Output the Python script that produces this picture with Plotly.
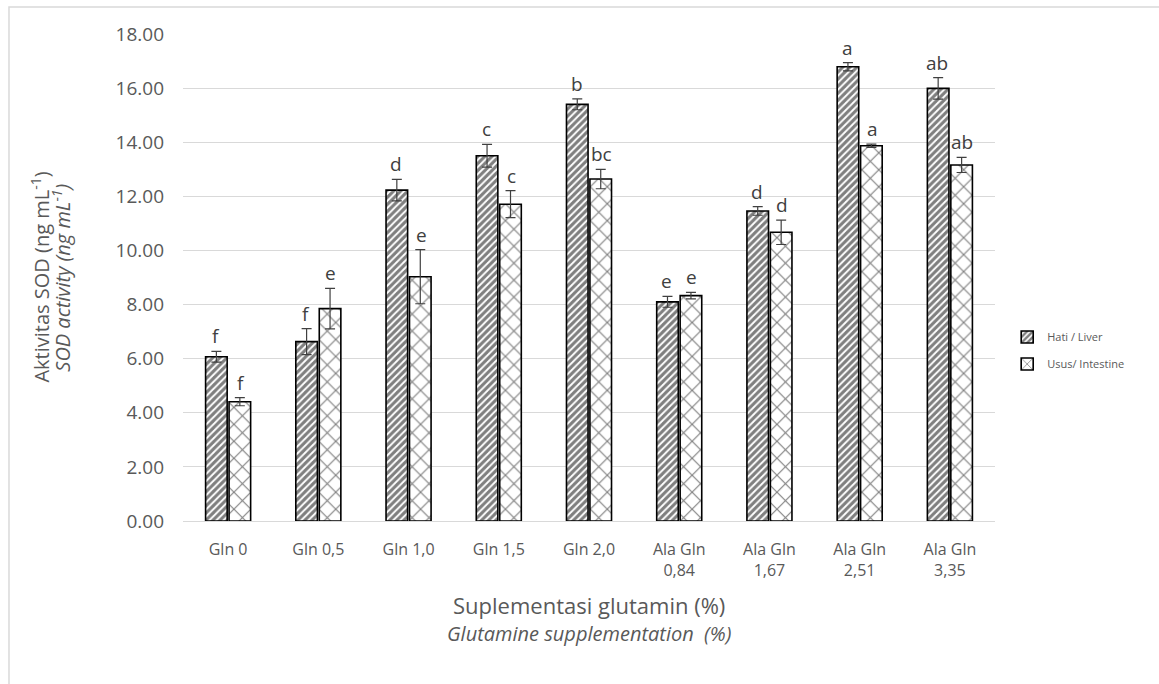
import plotly.graph_objects as go

categories = ["Gln 0", "Gln 0,5", "Gln 1,0", "Gln 1,5", "Gln 2,0",
              "Ala Gln<br>0,84", "Ala Gln<br>1,67", "Ala Gln<br>2,51", "Ala Gln<br>3,35"]

liver = [6.07, 6.63, 12.23, 13.50, 15.40, 8.10, 11.46, 16.79, 15.99]
liver_err = [0.20, 0.48, 0.40, 0.42, 0.20, 0.20, 0.16, 0.15, 0.40]
liver_letters = ["f", "f", "d", "c", "b", "e", "d", "a", "ab"]

intestine = [4.41, 7.85, 9.03, 11.71, 12.64, 8.33, 10.67, 13.87, 13.16]
intestine_err = [0.15, 0.75, 1.00, 0.50, 0.36, 0.12, 0.45, 0.06, 0.28]
intestine_letters = ["f", "e", "e", "c", "bc", "e", "d", "a", "ab"]

FONT = "'Open Sans', sans-serif"
GREY_TXT = "#595959"
GRID = "#d9d9d9"

fig = go.Figure()

fig.add_trace(go.Bar(
    name="Hati / Liver", x=categories, y=liver, legendgroup="liver",
    marker=dict(color="white", line=dict(color="black", width=1.6),
                pattern=dict(shape="/", fgcolor="black", bgcolor="white",
                             size=5, solidity=0.62)),
    error_y=dict(type="data", array=liver_err, color="#404040",
                 thickness=1.2, width=5),
))
fig.add_trace(go.Bar(
    name="Usus/ Intestine", x=categories, y=intestine, legendgroup="intestine",
    marker=dict(color="white", line=dict(color="black", width=1.6),
                pattern=dict(shape="x", fgcolor="black", bgcolor="white",
                             size=12, solidity=0.18)),
    error_y=dict(type="data", array=intestine_err, color="#404040",
                 thickness=1.2, width=5),
))

# significance letters above each error bar
for cat, v, e, t in zip(categories, liver, liver_err, liver_letters):
    fig.add_annotation(x=cat, y=v + e, text=t, showarrow=False, xshift=-12.5,
                       yanchor="bottom", yshift=0,
                       font=dict(family=FONT, size=19, color="#404040"))
for cat, v, e, t in zip(categories, intestine, intestine_err, intestine_letters):
    fig.add_annotation(x=cat, y=v + e, text=t, showarrow=False, xshift=12.5,
                       yanchor="bottom", yshift=0,
                       font=dict(family=FONT, size=19, color="#404040"))

# y-axis title (two lines, second italic)
fig.add_annotation(xref="paper", yref="paper", x=-0.176, y=0.5, textangle=-90,
                   xanchor="center", yanchor="middle",
                   text="Aktivitas SOD (ng mL<sup>-1</sup>)", showarrow=False,
                   font=dict(family=FONT, size=20, color=GREY_TXT))
fig.add_annotation(xref="paper", yref="paper", x=-0.150, y=0.5, textangle=-90,
                   xanchor="center", yanchor="middle",
                   text="<i>SOD activity (ng mL<sup>-1</sup>)</i>", showarrow=False,
                   font=dict(family=FONT, size=20, color=GREY_TXT))

# x-axis title (two lines, second italic)
fig.add_annotation(xref="paper", yref="paper", x=0.5, y=-0.172, yanchor="middle",
                   text="Suplementasi glutamin (%)", showarrow=False,
                   font=dict(family=FONT, size=22, color=GREY_TXT))
fig.add_annotation(xref="paper", yref="paper", x=0.5, y=-0.232, yanchor="middle",
                   text="<i>Glutamine supplementation  (%)</i>", showarrow=False,
                   font=dict(family=FONT, size=20, color=GREY_TXT))

# outer chart border
fig.add_shape(type="rect", xref="paper", yref="paper",
              x0=-0.2143, x1=1.5, y0=-1.0, y1=1.0554,
              line=dict(color=GRID, width=1.5), fillcolor="rgba(0,0,0,0)",
              layer="below")

fig.update_layout(
    width=1159, height=684,
    margin=dict(l=183, r=164, t=34, b=163),
    paper_bgcolor="white", plot_bgcolor="white",
    barmode="group", bargap=0.48, bargroupgap=0.08,
    font=dict(family=FONT, color=GREY_TXT),
    showlegend=True,
    legend=dict(x=1.015, y=0.35, xanchor="left", yanchor="middle",
                font=dict(family=FONT, size=11, color=GREY_TXT),
                itemwidth=30, tracegroupgap=8, bgcolor="rgba(0,0,0,0)"),
    xaxis=dict(showgrid=False, showline=True, linecolor=GRID, linewidth=1,
               ticks="", ticklabelstandoff=14,
               tickfont=dict(family=FONT, size=16, color=GREY_TXT)),
    yaxis=dict(range=[0, 18], dtick=2, tickformat=".2f", showgrid=True,
               gridcolor=GRID, gridwidth=1, zeroline=False, showline=False,
               ticks="", ticklabelstandoff=18,
               tickfont=dict(family=FONT, size=19, color=GREY_TXT)),
)

fig.write_html("out.html")
